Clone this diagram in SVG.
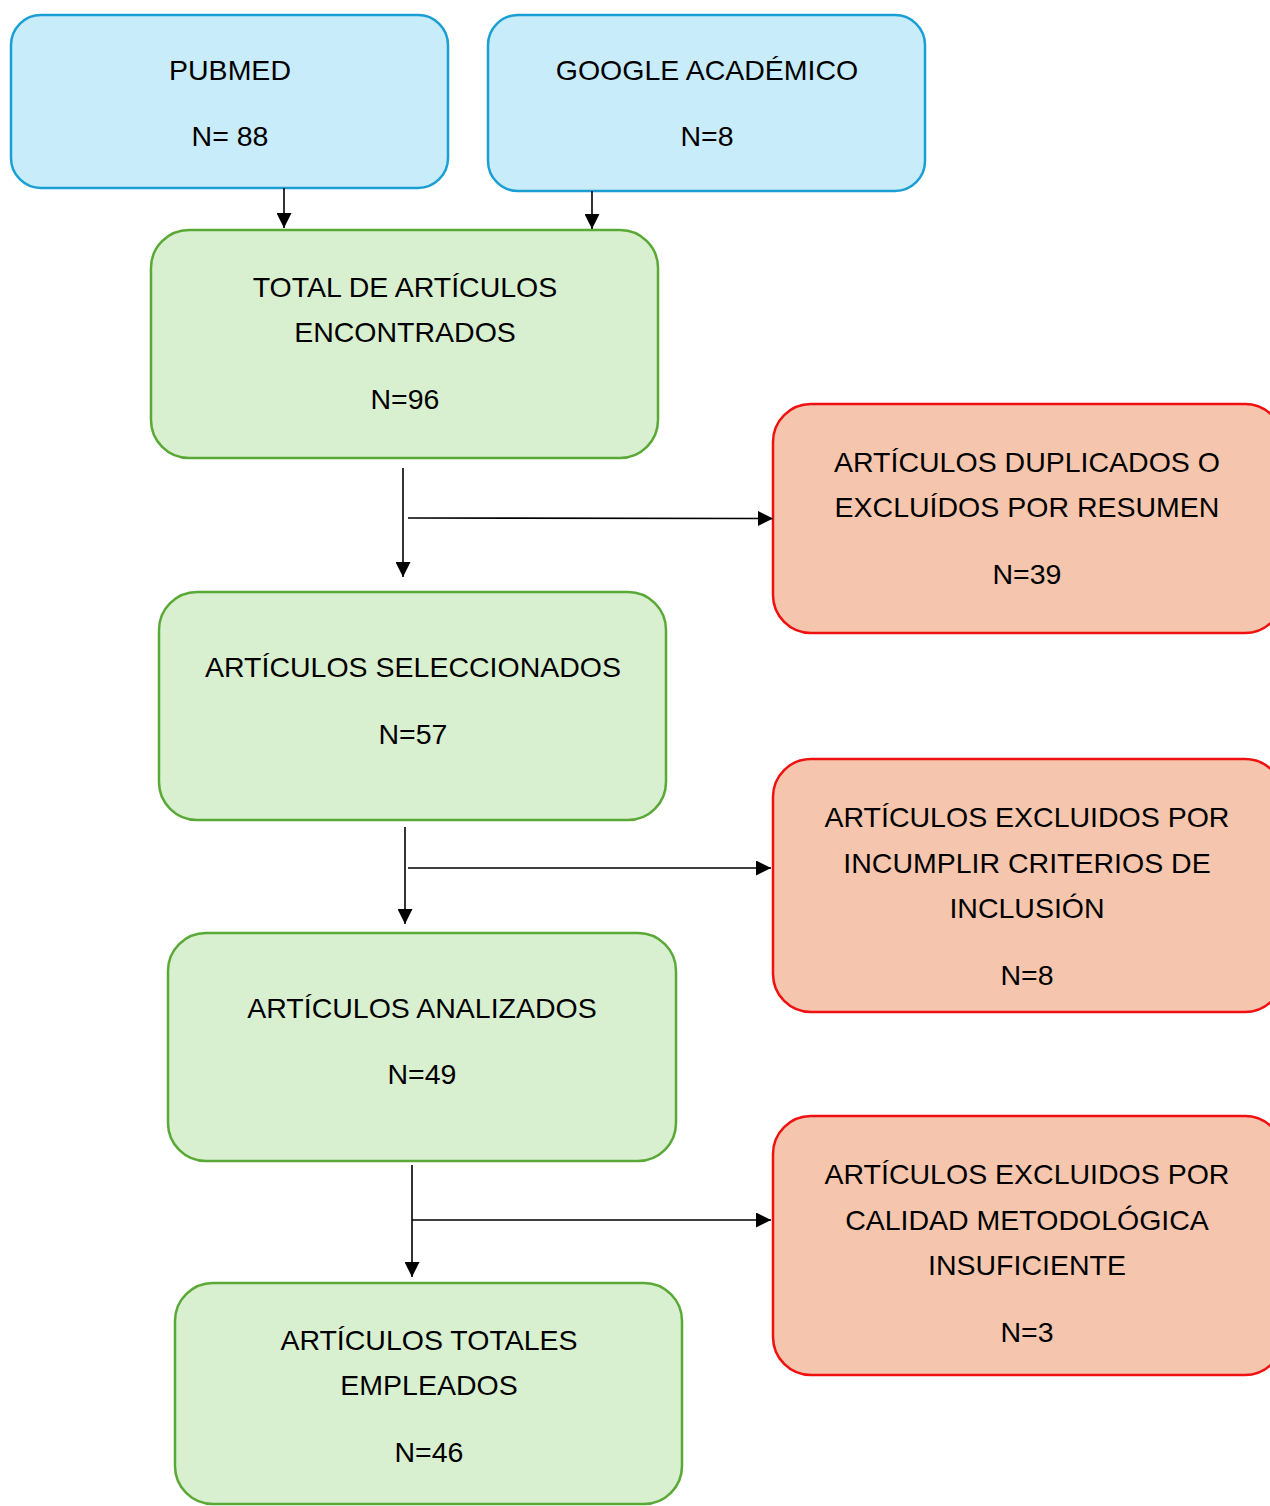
<svg xmlns="http://www.w3.org/2000/svg" width="1270" height="1506" viewBox="0 0 1270 1506">
<style>
text{font-family:"Liberation Sans",Arial,sans-serif;font-size:28.5px;fill:#000;text-anchor:middle}
.blue{fill:#c9ecfb;stroke:#1a9fd4;stroke-width:2.5}
.green{fill:#d9f0d0;stroke:#5aa836;stroke-width:2.5}
.red{fill:#f5c6ad;stroke:#f01010;stroke-width:2.5}
.c{stroke:#000;stroke-width:1.6;fill:none;marker-end:url(#ah)}
</style>
<defs>
<marker id="ah" viewBox="0 0 10 10" refX="10" refY="5" markerWidth="15" markerHeight="15" markerUnits="userSpaceOnUse" orient="auto">
<path d="M0,0 L10,5 L0,10 z" fill="#000"/>
</marker>
</defs>
<rect width="1270" height="1506" fill="#fff"/>
<g id="pubmed">
<rect class="blue" x="11" y="15" width="437" height="173" rx="30"/>
<text x="230" y="80">PUBMED</text>
<text x="230" y="146">N= 88</text>
</g>
<g id="google">
<rect class="blue" x="488" y="15" width="437" height="176" rx="30"/>
<text x="707" y="80">GOOGLE ACADÉMICO</text>
<text x="707" y="146">N=8</text>
</g>
<g id="total">
<rect class="green" x="151" y="230" width="507" height="228" rx="38"/>
<text x="405" y="297">TOTAL DE ARTÍCULOS</text>
<text x="405" y="342">ENCONTRADOS</text>
<text x="405" y="409">N=96</text>
</g>
<g id="duplicados">
<rect class="red" x="773" y="404" width="510" height="229" rx="38"/>
<text x="1027" y="472">ARTÍCULOS DUPLICADOS O</text>
<text x="1027" y="517">EXCLUÍDOS POR RESUMEN</text>
<text x="1027" y="584">N=39</text>
</g>
<g id="seleccionados">
<rect class="green" x="159" y="592" width="507" height="228" rx="38"/>
<text x="413" y="677">ARTÍCULOS SELECCIONADOS</text>
<text x="413" y="744">N=57</text>
</g>
<g id="criterios">
<rect class="red" x="773" y="759" width="510" height="253" rx="38"/>
<text x="1027" y="827">ARTÍCULOS EXCLUIDOS POR</text>
<text x="1027" y="873">INCUMPLIR CRITERIOS DE</text>
<text x="1027" y="918">INCLUSIÓN</text>
<text x="1027" y="985">N=8</text>
</g>
<g id="analizados">
<rect class="green" x="168" y="933" width="508" height="228" rx="38"/>
<text x="422" y="1018">ARTÍCULOS ANALIZADOS</text>
<text x="422" y="1084">N=49</text>
</g>
<g id="calidad">
<rect class="red" x="773" y="1116" width="510" height="259" rx="38"/>
<text x="1027" y="1184">ARTÍCULOS EXCLUIDOS POR</text>
<text x="1027" y="1230">CALIDAD METODOLÓGICA</text>
<text x="1027" y="1275">INSUFICIENTE</text>
<text x="1027" y="1342">N=3</text>
</g>
<g id="totales">
<rect class="green" x="175" y="1283" width="507" height="221" rx="38"/>
<text x="429" y="1350">ARTÍCULOS TOTALES</text>
<text x="429" y="1395">EMPLEADOS</text>
<text x="429" y="1462">N=46</text>
</g>
<g id="connectors">
<line class="c" x1="284" y1="188" x2="284" y2="228"/>
<line class="c" x1="592" y1="191" x2="592" y2="229"/>
<line class="c" x1="403" y1="468" x2="403" y2="577"/>
<line class="c" x1="408" y1="518" x2="773" y2="518.5"/>
<line class="c" x1="405" y1="827" x2="405" y2="924"/>
<line class="c" x1="408" y1="868" x2="771" y2="868"/>
<line class="c" x1="412" y1="1165" x2="412" y2="1277"/>
<line class="c" x1="412" y1="1220" x2="771" y2="1220"/>
</g>
</svg>
